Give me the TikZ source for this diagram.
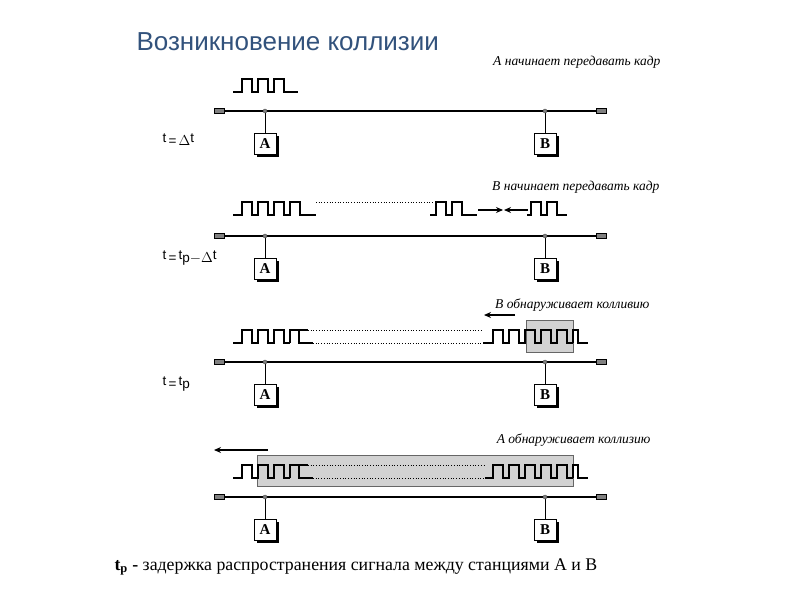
\documentclass[tikz,border=0pt]{standalone}
\usepackage{fontspec}
\setmainfont{Liberation Serif}
\setsansfont{Liberation Sans}
\usepackage{xcolor}
\usepackage{tikz}
\usetikzlibrary{positioning, calc, arrows.meta, shadows}

\definecolor{titleblue}{RGB}{50,82,124}
\definecolor{collgray}{RGB}{210,210,210}

% pulse train: start x, low y, first rise x, number of pulses, end x
\newcommand{\pulsetrain}[5]{%
  \draw[signal] (#1,#2)
    \foreach \k [evaluate=\k as \r using #3+16*(\k-1)] in {1,...,#4}
      { -- (\r,#2) -- (\r,#2-13) -- (\r+10,#2-13) -- (\r+10,#2) }
    -- (#5,#2);
}
\newcommand{\lo}[1]{\raisebox{-3pt}{#1}}

\tikzset{
  station/.style={draw, fill=white, line width=0.6pt, minimum width=22pt,
    minimum height=21pt, inner sep=0pt, font=\bfseries\fontsize{15}{15}\selectfont,
    drop shadow={shadow xshift=3pt, shadow yshift=-3pt, fill=black, opacity=1}},
  term/.style={draw, fill=gray, line width=0.6pt, minimum width=10pt,
    minimum height=5pt, inner sep=0pt},
  bus/.style={line width=1.8pt},
  signal/.style={line width=2pt},
  sigarrow/.style={line width=1.8pt, -{Stealth[length=7pt, width=6pt]}},
  collbox/.style={fill=collgray, draw=black!60, line width=0.5pt},
  event/.style={anchor=east, font=\itshape\fontsize{13.5}{13.5}\selectfont},
  tlabel/.style={anchor=west, font=\sffamily\fontsize{13.5}{13.5}\selectfont}
}

\begin{document}
\begin{tikzpicture}[x=1pt, y=-1pt, >=Stealth]
    \useasboundingbox (0,0) rectangle (800,600);

    % Title
    \node[anchor=west, text=titleblue, font=\sffamily\fontsize{26}{26}\selectfont] (title) at (133,42) {Возникновение коллизии};

    % Bus, taps and stations for the four moments
    \foreach \row/\by in {1/111, 2/236, 3/362, 4/497}{
        \node[term] (tl\row) at (219.5,\by) {};
        \node[term] (tr\row) at (601,\by) {};
        \draw[bus] (tl\row) -- (tr\row);
        \coordinate (ta\row) at (265,\by);
        \coordinate (tb\row) at (545,\by);
        \node[station, below=22pt of ta\row] (A\row) {A};
        \node[station, below=22pt of tb\row] (B\row) {B};
        \draw[line width=0.6pt] (ta\row) -- (A\row);
        \draw[line width=0.6pt] (tb\row) -- (B\row);
        \filldraw[fill=gray, draw=black!70, line width=0.4pt] (ta\row) circle (2pt);
        \filldraw[fill=gray, draw=black!70, line width=0.4pt] (tb\row) circle (2pt);
    }

    % Moment 1: A starts
    \node[event] (ev1) at (664,62) {А начинает передавать кадр};
    \node[tlabel] (t1) at (159,140) {t\,\lo{=}\,\lo{$\Delta$}t};
    \pulsetrain{233}{92}{242}{3}{298}

    % Moment 2: B starts
    \node[event] (ev2) at (663,187) {В начинает передавать кадр};
    \node[tlabel] (t2) at (159,258) {t\,\lo{=}\,t\lo{p}\lo{$-\Delta$}t};
    \pulsetrain{233}{215}{242}{4}{316}
    \draw[dotted, line width=0.7pt] (316,202) -- (434,202);
    \pulsetrain{430}{215}{436}{2}{477}
    \coordinate (ra) at (478,210);
    \coordinate (rb) at (503,210);
    \coordinate (la) at (528,210);
    \coordinate (lb) at (504,210);
    \draw[sigarrow] (ra) -- (rb);
    \draw[sigarrow] (la) -- (lb);
    \pulsetrain{527}{215}{531}{2}{567}

    % Moment 3: B detects
    \node[event] (ev3) at (653,305) {В обнаруживает колливию};
    \node[tlabel] (t3) at (159,384) {t\,\lo{=}\,t\lo{p}};
    \draw[collbox] (526,320) rectangle (573,352);
    \coordinate (b3a) at (515,315);
    \coordinate (b3b) at (484,315);
    \draw[sigarrow] (b3a) -- (b3b);
    \pulsetrain{233}{343}{242}{3}{290}
    \draw[signal] (290,343) -- (290,330) -- (308,330);
    \draw[signal] (299,330) -- (299,343) -- (313,343);
    \draw[dotted, line width=0.7pt] (308,330) -- (483,330);
    \draw[dotted, line width=0.7pt] (313,343) -- (483,343);
    \pulsetrain{483}{343}{493}{5}{573}
    \draw[signal] (573,343) -- (573,330) -- (578,330) -- (578,343) -- (588,343);

    % Moment 4: A detects
    \node[event] (ev4) at (654,440) {А обнаруживает коллизию};
    \draw[collbox] (257,455) rectangle (573,486);
    \coordinate (a4a) at (268,450);
    \coordinate (a4b) at (214,450);
    \draw[sigarrow] (a4a) -- (a4b);
    \pulsetrain{233}{478}{242}{3}{290}
    \draw[signal] (290,478) -- (290,465) -- (308,465);
    \draw[signal] (299,465) -- (299,478) -- (313,478);
    \draw[dotted, line width=0.7pt] (308,465) -- (485,465);
    \draw[dotted, line width=0.7pt] (313,478) -- (485,478);
    \pulsetrain{485}{478}{493}{5}{573}
    \draw[signal] (573,478) -- (573,465) -- (578,465) -- (578,478) -- (588,478);

    % Caption
    \node[anchor=west, font=\fontsize{17.8}{17.8}\selectfont] (cap) at (111,567)
        {\textbf{t\textsubscript{p} -} задержка распространения сигнала между станциями А и В};
\end{tikzpicture}
\end{document}
